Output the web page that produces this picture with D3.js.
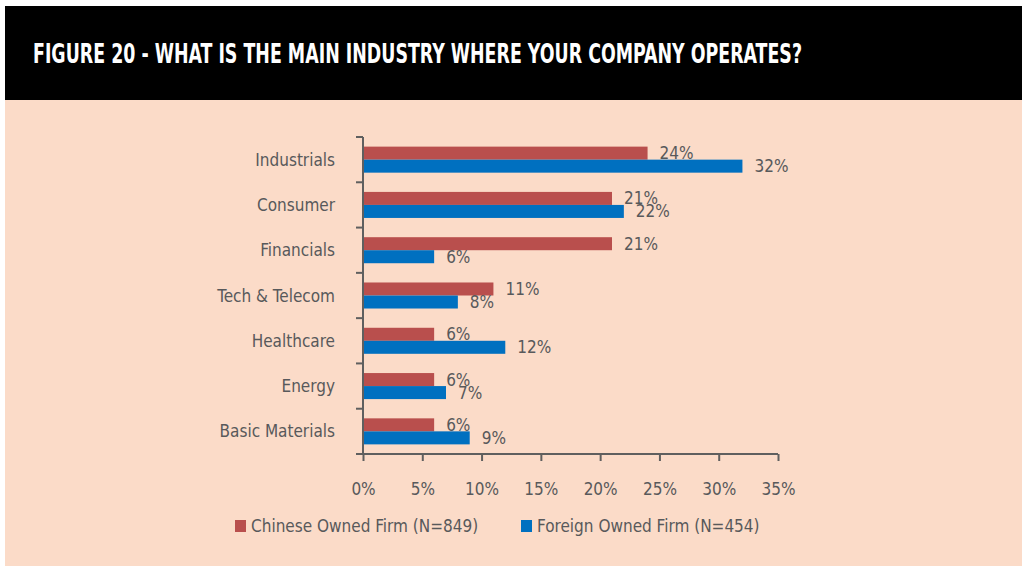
<!DOCTYPE html>
<html>
<head>
<meta charset="utf-8">
<script src="https://cdn.jsdelivr.net/npm/d3@7"></script>
<style>
  body { margin: 0; background: #ffffff; }
  svg text { font-family: "Liberation Sans Narrow", "DejaVu Sans Condensed", sans-serif; }
</style>
</head>
<body>
<svg id="chart" width="1026" height="570"></svg>
<script>
var categories = ["Industrials", "Consumer", "Financials", "Tech & Telecom", "Healthcare", "Energy", "Basic Materials"];
var chinese = [24, 21, 21, 11, 6, 6, 6];
var foreign = [32, 22, 6, 8, 12, 7, 9];
var seriesNames = ["Chinese Owned Firm (N=849)", "Foreign Owned Firm (N=454)"];
var xTicks = [0, 5, 10, 15, 20, 25, 30, 35];
var chartTitle = "FIGURE 20 -  WHAT IS THE MAIN INDUSTRY WHERE YOUR COMPANY OPERATES?";

var svg = d3.select("#chart"),
    colors = ["#b94f4d", "#0070c0"],
    textColor = "#58595b",
    axisColor = "#5f5f5f",
    margin = {top: 137, left: 363, right: 778, bottom: 454};

// background and header
svg.append("rect")
    .attr("x", 5).attr("y", 100)
    .attr("width", 1017).attr("height", 466)
    .style("fill", "#fbdbc8");

svg.append("rect")
    .attr("x", 5).attr("y", 6)
    .attr("width", 1017).attr("height", 94)
    .style("fill", "#000000");

svg.append("text")
    .attr("x", 33)
    .attr("y", 63)
    .attr("textLength", 769)
    .attr("lengthAdjust", "spacingAndGlyphs")
    .style("fill", "#ffffff")
    .style("font-size", "26px")
    .style("font-weight", "bold")
    .text(chartTitle);

var x = d3.scaleLinear()
      .domain([0, 35])
      .range([margin.left, margin.right]);

var y = d3.scaleBand()
      .domain(categories)
      .range([margin.top, margin.bottom]);

var inner = d3.scaleBand()
      .domain([0, 1])
      .range([0, y.bandwidth()])
      .paddingInner(0)
      .paddingOuter(0.74);

var rows = categories.map(function(c, i) {
  return {cat: c, vals: [chinese[i], foreign[i]]};
});

// bars
var groups = svg.selectAll("g.row")
    .data(rows)
    .enter()
    .append("g")
    .attr("class", "row")
    .attr("transform", d => "translate(0," + y(d.cat) + ")");

groups.selectAll("rect")
    .data(d => d.vals.map((v, k) => ({v: v, k: k})))
    .enter()
    .append("rect")
    .attr("x", x(0) + 1)
    .attr("y", d => inner(d.k))
    .attr("width", d => x(d.v) - x(0) - 1)
    .attr("height", inner.bandwidth())
    .style("fill", d => colors[d.k]);

groups.selectAll("text.val")
    .data(d => d.vals.map((v, k) => ({v: v, k: k})))
    .enter()
    .append("text")
    .attr("class", "val")
    .attr("x", d => x(d.v) + 12)
    .attr("y", d => inner(d.k) + inner.bandwidth() / 2 + 6)
    .style("fill", textColor)
    .style("font-size", "17px")
    .text(d => d.v + "%");

// y axis
var yAxis = svg.append("g")
    .attr("transform", "translate(" + margin.left + ",0)");

yAxis.append("line")
    .attr("x1", 0).attr("x2", 0)
    .attr("y1", margin.top).attr("y2", margin.bottom)
    .style("stroke", axisColor).style("stroke-width", 2);

yAxis.selectAll("line.tick")
    .data(categories.concat(["end"]))
    .enter()
    .append("line")
    .attr("class", "tick")
    .attr("x1", -7).attr("x2", 0)
    .attr("y1", (d, i) => margin.top + i * y.step())
    .attr("y2", (d, i) => margin.top + i * y.step())
    .style("stroke", axisColor).style("stroke-width", 2);

yAxis.selectAll("text")
    .data(categories)
    .enter()
    .append("text")
    .attr("x", -28)
    .attr("y", d => y(d) + y.bandwidth() / 2 + 6)
    .attr("text-anchor", "end")
    .style("fill", textColor)
    .style("font-size", "17px")
    .text(d => d);

// x axis
var xAxis = svg.append("g")
    .attr("transform", "translate(0," + margin.bottom + ")")
    .call(d3.axisBottom(x)
      .tickValues(xTicks)
      .tickSizeInner(7)
      .tickSizeOuter(0)
      .tickPadding(22)
      .tickFormat(d => d + "%"));

xAxis.select(".domain")
    .attr("d", "M" + (margin.left - 7) + ",0H" + margin.right)
    .style("stroke", axisColor).style("stroke-width", 2);
xAxis.selectAll(".tick line")
    .style("stroke", axisColor).style("stroke-width", 2);
xAxis.selectAll(".tick text")
    .style("fill", textColor)
    .style("font-size", "17px")
    .style("font-family", "Liberation Sans Narrow, DejaVu Sans Condensed, sans-serif");

// legend
var legendX = [235, 521];
var legend = svg.selectAll("g.legend")
    .data(seriesNames)
    .enter()
    .append("g")
    .attr("class", "legend")
    .attr("transform", (d, i) => "translate(" + legendX[i] + ",520)");

legend.append("rect")
    .attr("width", 11).attr("height", 12)
    .style("fill", (d, i) => colors[i]);

legend.append("text")
    .attr("x", 16)
    .attr("y", 12)
    .style("fill", textColor)
    .style("font-size", "17px")
    .text(d => d);
</script>
</body>
</html>
